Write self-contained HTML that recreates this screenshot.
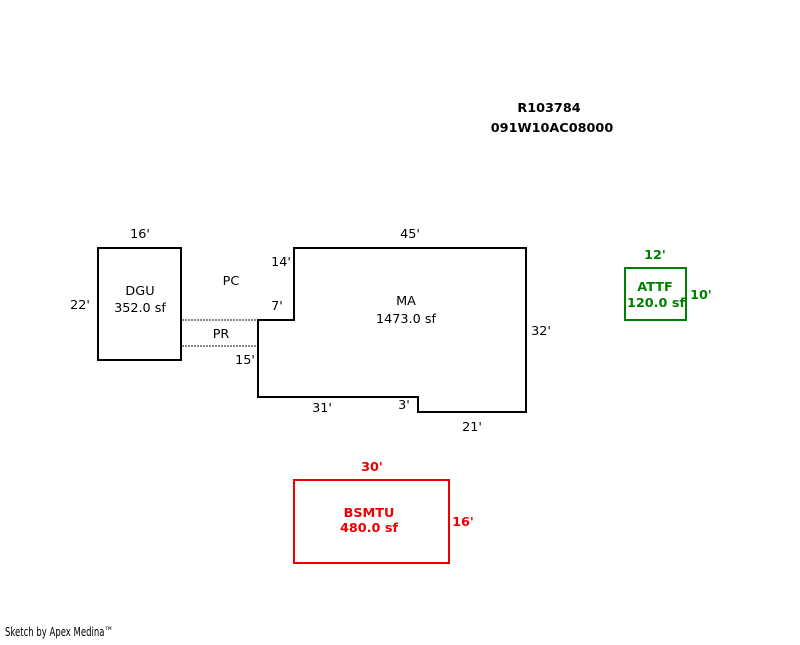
<!DOCTYPE html>
<html><head><style>
body{margin:0;background:#fff}
svg text{font-family:"DejaVu Sans","Liberation Sans",sans-serif;font-size:12.8px}
</style></head><body>
<svg width="800" height="640" xmlns="http://www.w3.org/2000/svg">
<text x="549" y="112" text-anchor="middle" font-weight="bold" font-size="14">R103784</text>
<text x="552" y="132" text-anchor="middle" font-weight="bold" font-size="14">091W10AC08000</text>
<rect x="98" y="248" width="83" height="112" fill="none" stroke="#000" stroke-width="2"/>
<line x1="182" y1="320" x2="258" y2="320" stroke="#888" stroke-width="2" stroke-dasharray="2,1"/>
<line x1="182" y1="346" x2="258" y2="346" stroke="#888" stroke-width="2" stroke-dasharray="2,1"/>
<polygon points="294,248 526,248 526,412 418,412 418,397 258,397 258,320 294,320" fill="none" stroke="#000" stroke-width="2"/>
<text x="140" y="238" text-anchor="middle">16'</text>
<text x="80" y="309" text-anchor="middle">22'</text>
<text x="140" y="295" text-anchor="middle">DGU</text>
<text x="140" y="312" text-anchor="middle">352.0 sf</text>
<text x="231" y="285" text-anchor="middle">PC</text>
<text x="221" y="338" text-anchor="middle">PR</text>
<text x="281" y="266" text-anchor="middle">14'</text>
<text x="277" y="310" text-anchor="middle">7'</text>
<text x="245" y="364" text-anchor="middle">15'</text>
<text x="410" y="238" text-anchor="middle">45'</text>
<text x="406" y="305" text-anchor="middle">MA</text>
<text x="406" y="323" text-anchor="middle">1473.0 sf</text>
<text x="541" y="335" text-anchor="middle">32'</text>
<text x="322" y="412" text-anchor="middle">31'</text>
<text x="404" y="409" text-anchor="middle">3'</text>
<text x="472" y="431" text-anchor="middle">21'</text>
<rect x="625" y="268" width="61" height="52" fill="none" stroke="#008000" stroke-width="2"/>
<text x="655" y="259" text-anchor="middle" font-size="13.5" font-weight="bold" fill="#008000">12'</text>
<text x="655" y="291" text-anchor="middle" font-size="12.5" font-weight="bold" fill="#008000">ATTF</text>
<text x="656" y="307" text-anchor="middle" font-size="12.3" font-weight="bold" fill="#008000">120.0 sf</text>
<text x="701" y="299" text-anchor="middle" font-size="13.5" font-weight="bold" fill="#008000">10'</text>
<rect x="294" y="480" width="155" height="83" fill="none" stroke="#e00" stroke-width="2"/>
<text x="372" y="471" text-anchor="middle" font-size="13.5" font-weight="bold" fill="#e00">30'</text>
<text x="369" y="517" text-anchor="middle" font-size="13.5" font-weight="bold" fill="#e00">BSMTU</text>
<text x="369" y="532" text-anchor="middle" font-size="13.5" font-weight="bold" fill="#e00">480.0 sf</text>
<text x="463" y="526" text-anchor="middle" font-size="13.5" font-weight="bold" fill="#e00">16'</text>
<text x="5" y="636" font-size="8" textLength="108" lengthAdjust="spacingAndGlyphs">Sketch by Apex Medina™</text>
</svg>
</body></html>
